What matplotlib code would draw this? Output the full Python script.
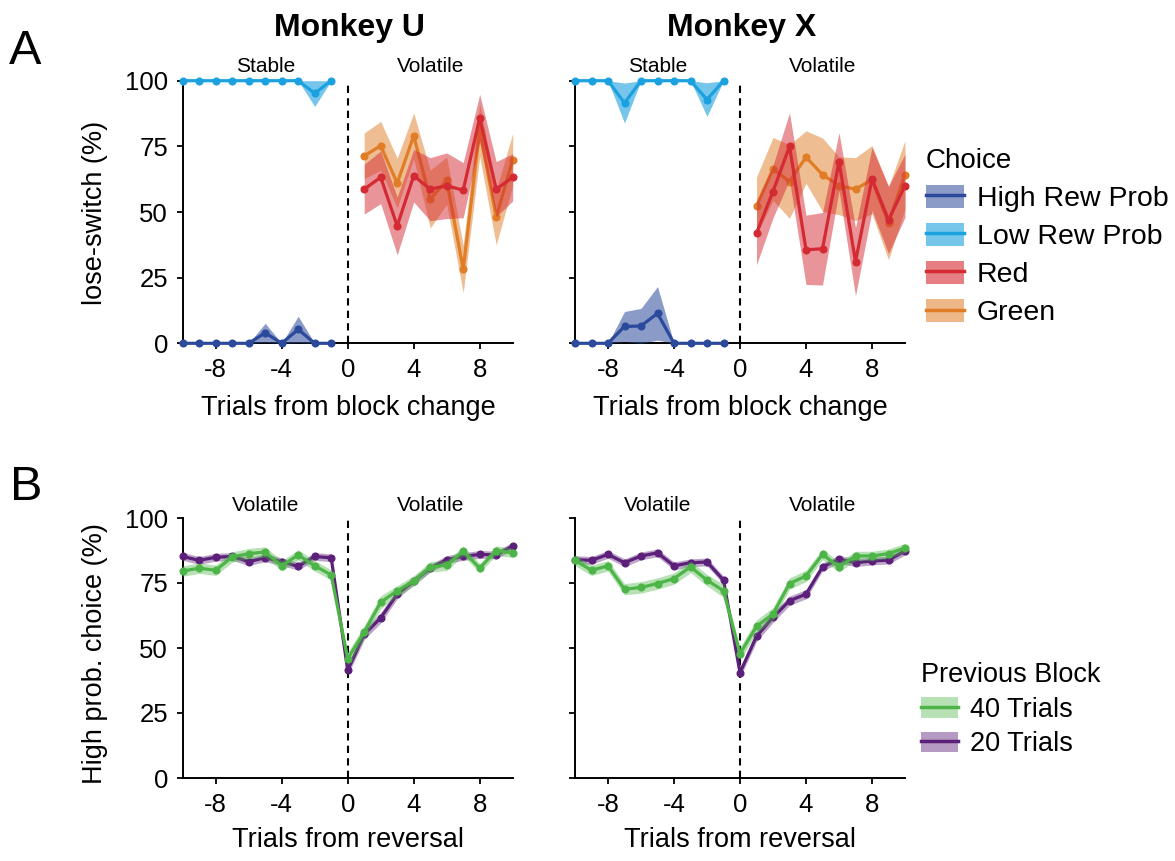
import matplotlib
matplotlib.use("Agg")
import matplotlib.pyplot as plt
from matplotlib.patches import Patch
from matplotlib.lines import Line2D
import numpy as np

plt.rcParams['font.family'] = ['Liberation Sans', 'DejaVu Sans']
plt.rcParams['axes.unicode_minus'] = False

# ---------------- data ----------------
trials_stable = [-10, -9, -8, -7, -6, -5, -4, -3, -2, -1]
trials_volatile = [1, 2, 3, 4, 5, 6, 7, 8, 9, 10]
trials_rev = [-10, -9, -8, -7, -6, -5, -4, -3, -2, -1, 0, 1, 2, 3, 4, 5, 6, 7, 8, 9, 10]

# Panel A, Monkey U
U_high = [0, 0, 0, 0, 0, 4.0, 0, 5.3, 0, 0]
U_high_se = [0, 0, 0, 0, 0, 3.6, 0, 5.0, 0, 0]
U_low = [100, 100, 100, 100, 100, 100, 100, 100, 95.2, 100]
U_low_se = [0, 0, 0, 0, 0, 0, 0, 0, 5.0, 0]
U_red = [58.7, 63.2, 44.7, 63.8, 58.7, 60.0, 58.3, 85.8, 58.7, 63.2]
U_red_se = [9.5, 10, 11, 10, 12, 12.5, 10.5, 9, 10.5, 9]
U_green = [71.4, 75.2, 61.0, 79.0, 54.9, 62.0, 28.2, 81.1, 48.0, 69.9]
U_green_se = [8.7, 9.3, 9.5, 8.7, 11, 9, 9, 10, 10.5, 10]

# Panel A, Monkey X
X_high = [0, 0, 0, 6.4, 6.6, 11.4, 0, 0, 0, 0]
X_high_se = [0, 0, 0, 5.7, 6.7, 10.2, 0, 0, 0, 0]
X_low = [100, 100, 100, 91.5, 100, 100, 100, 100, 92.8, 100]
X_low_se = [0, 0, 0, 7.6, 0, 0, 0, 0, 6.4, 0]
X_red = [41.9, 57.8, 75.0, 35.6, 36.0, 69.2, 31.1, 62.6, 47.0, 60.0]
X_red_se = [12, 10, 12.8, 13.2, 13.8, 11, 13, 12, 12.8, 12]
X_green = [52.3, 66.4, 61.6, 70.9, 64.2, 60.0, 58.7, 62.3, 45.7, 64.2]
X_green_se = [11, 12, 14, 10, 14, 11, 12, 13, 13.9, 13]

# Panel B, Monkey U
U_20 = [85.2, 83.7, 84.9, 85.2, 83.2, 84.7, 83.2, 81.4, 85.2, 84.7, 41.5,
        55.2, 61.6, 70.7, 75.8, 80.7, 84.0, 85.2, 86.0, 85.8, 89.2]
U_20_se = [1.5, 1.5, 1.5, 1.5, 1.5, 1.5, 1.5, 1.5, 1.5, 1.5, 2.0,
           2.0, 2.0, 1.8, 1.5, 1.5, 1.5, 1.5, 1.5, 1.5, 1.5]
U_40 = [79.6, 80.7, 79.9, 85.0, 86.3, 86.9, 81.6, 85.8, 81.6, 78.1, 45.9,
        56.1, 67.6, 72.0, 75.8, 81.2, 81.8, 87.3, 80.7, 87.5, 86.6]
U_40_se = [2.0, 2.0, 2.0, 2.0, 2.0, 2.0, 2.0, 2.0, 2.0, 2.0, 2.5,
           2.5, 2.5, 2.0, 2.0, 2.0, 2.0, 1.8, 1.8, 1.8, 1.8]

# Panel B, Monkey X
X_20 = [84.0, 83.7, 86.0, 82.8, 85.4, 86.6, 81.6, 82.8, 83.1, 76.1, 40.5,
        54.5, 61.8, 68.2, 70.7, 81.2, 84.1, 82.8, 83.5, 83.8, 87.3]
X_20_se = [1.5, 1.5, 1.5, 1.5, 1.5, 1.5, 1.5, 1.5, 1.5, 1.5, 2.0,
           2.0, 2.0, 1.8, 1.8, 1.5, 1.5, 1.5, 1.5, 1.5, 1.5]
X_40 = [83.7, 79.9, 81.6, 72.6, 73.3, 74.8, 76.7, 81.2, 76.1, 72.0, 47.8,
        58.3, 63.1, 74.8, 77.7, 86.0, 81.2, 85.4, 85.4, 86.3, 88.5]
X_40_se = [2.0, 2.0, 2.0, 2.2, 2.2, 2.2, 2.2, 2.2, 2.2, 2.5, 2.5,
           2.5, 2.5, 2.2, 2.2, 2.0, 2.0, 1.8, 1.8, 1.8, 1.8]

x_ticks = [-8, -4, 0, 4, 8]
y_ticks = [0, 25, 50, 75, 100]

# ---------------- style ----------------
C_HIGH = '#2B4A9C'
C_LOW = '#1BA0E0'
C_RED = '#D42A33'
C_ORANGE = '#E07D26'
C_GREEN = '#4DB547'
C_PURPLE = '#5C1F7A'

W, H = 1175, 861
fig = plt.figure(figsize=(W / 100, H / 100), dpi=100)


def add_ax(x0, y0, x1, y1):
    return fig.add_axes([x0 / W, 1 - y1 / H, (x1 - x0) / W, (y1 - y0) / H])


def style(ax, show_ylabels):
    for s in ['top', 'right']:
        ax.spines[s].set_visible(False)
    for s in ['left', 'bottom']:
        ax.spines[s].set_linewidth(1.4)
    ax.set_xlim(-10, 10)
    ax.set_ylim(0, 100)
    ax.set_xticks(x_ticks)
    ax.set_yticks(y_ticks)
    ax.tick_params(direction='out', length=4.5, width=1.3, labelsize=18.5, pad=6)
    if not show_ylabels:
        ax.set_yticklabels([])
    ax.axvline(0, color='black', lw=1.5, ls=(0, (3.5, 2.5)), zorder=1)


def curve(ax, x, m, se, color, alpha, z):
    m = np.asarray(m, float)
    se = np.asarray(se, float)
    ax.fill_between(x, np.clip(m - se, 0, 100), np.clip(m + se, 0, 100),
                    color=color, alpha=alpha, lw=0, zorder=z, clip_on=False)
    ax.plot(x, m, color=color, lw=2.3, marker='o', ms=4.8, zorder=z + 0.5,
            clip_on=False)


axUa = add_ax(182.7, 80.7, 512.7, 343.3)
axXa = add_ax(575, 80.7, 905, 343.3)
axUb = add_ax(182.7, 518, 512.7, 778)
axXb = add_ax(575, 518, 905, 778)

style(axUa, True)
style(axXa, False)
style(axUb, True)
style(axXb, False)

# Panel A
for ax, hi, hise, lo, lose, rd, rdse, gr, grse in [
        (axUa, U_high, U_high_se, U_low, U_low_se, U_red, U_red_se, U_green, U_green_se),
        (axXa, X_high, X_high_se, X_low, X_low_se, X_red, X_red_se, X_green, X_green_se)]:
    curve(ax, trials_stable, hi, hise, C_HIGH, 0.55, 3)
    curve(ax, trials_stable, lo, lose, C_LOW, 0.6, 3)
    curve(ax, trials_volatile, gr, grse, C_ORANGE, 0.5, 3)
    curve(ax, trials_volatile, rd, rdse, C_RED, 0.5, 4)
    tr = ax.get_xaxis_transform()
    ax.text(-5, 1.055, 'Stable', transform=tr, ha='center', va='center', fontsize=15)
    ax.text(5, 1.055, 'Volatile', transform=tr, ha='center', va='center', fontsize=15)

# Panel B
for ax, p, pse, g, gse in [(axUb, U_20, U_20_se, U_40, U_40_se),
                           (axXb, X_20, X_20_se, X_40, X_40_se)]:
    curve(ax, trials_rev, p, pse, C_PURPLE, 0.4, 3)
    curve(ax, trials_rev, g, gse, C_GREEN, 0.4, 4)
    tr = ax.get_xaxis_transform()
    ax.text(-5, 1.047, 'Volatile', transform=tr, ha='center', va='center', fontsize=15)
    ax.text(5, 1.047, 'Volatile', transform=tr, ha='center', va='center', fontsize=15)

# Titles and labels
fig.text(349 / W, 1 - 28 / H, 'Monkey U', ha='center', va='center', fontsize=23, weight='bold')
fig.text(742 / W, 1 - 28 / H, 'Monkey X', ha='center', va='center', fontsize=23, weight='bold')
fig.text(25 / W, 1 - 52 / H, 'A', ha='center', va='center', fontsize=35)
fig.text(26 / W, 1 - 487 / H, 'B', ha='center', va='center', fontsize=35)

fig.text(95 / W, 1 - 213 / H, 'lose-switch (%)', rotation=90, ha='center', va='center', fontsize=19.5)
fig.text(95 / W, 1 - 654 / H, 'High prob. choice (%)', rotation=90, ha='center', va='center', fontsize=19.5)

fig.text(348 / W, 1 - 408 / H, 'Trials from block change', ha='center', va='center', fontsize=19.5)
fig.text(740 / W, 1 - 408 / H, 'Trials from block change', ha='center', va='center', fontsize=19.5)
fig.text(348 / W, 1 - 840 / H, 'Trials from reversal', ha='center', va='center', fontsize=19.5)
fig.text(740 / W, 1 - 840 / H, 'Trials from reversal', ha='center', va='center', fontsize=19.5)


def handle(color, alpha):
    return (Patch(facecolor=color, alpha=alpha, edgecolor='none'),
            Line2D([], [], color=color, lw=2.5))


leg1 = fig.legend([handle(C_HIGH, 0.55), handle(C_LOW, 0.6), handle(C_RED, 0.6), handle(C_ORANGE, 0.55)],
                  ['High Rew Prob', 'Low Rew Prob', 'Red', 'Green'],
                  title='Choice', loc='upper left', bbox_to_anchor=(926 / W, 1 - 148 / H),
                  frameon=False, fontsize=20.5, title_fontsize=20, alignment='left',
                  handlelength=1.33, handleheight=0.85, handletextpad=0.45,
                  labelspacing=0.38, borderpad=0, borderaxespad=0)

leg2 = fig.legend([handle(C_GREEN, 0.4), handle(C_PURPLE, 0.45)],
                  ['40 Trials', '20 Trials'],
                  title='Previous Block', loc='upper left', bbox_to_anchor=(921 / W, 1 - 662 / H),
                  frameon=False, fontsize=19.5, title_fontsize=19.5, alignment='left',
                  handlelength=1.35, handleheight=0.8, handletextpad=0.45,
                  labelspacing=0.32, borderpad=0, borderaxespad=0)

fig.savefig('out.png', dpi=100)
